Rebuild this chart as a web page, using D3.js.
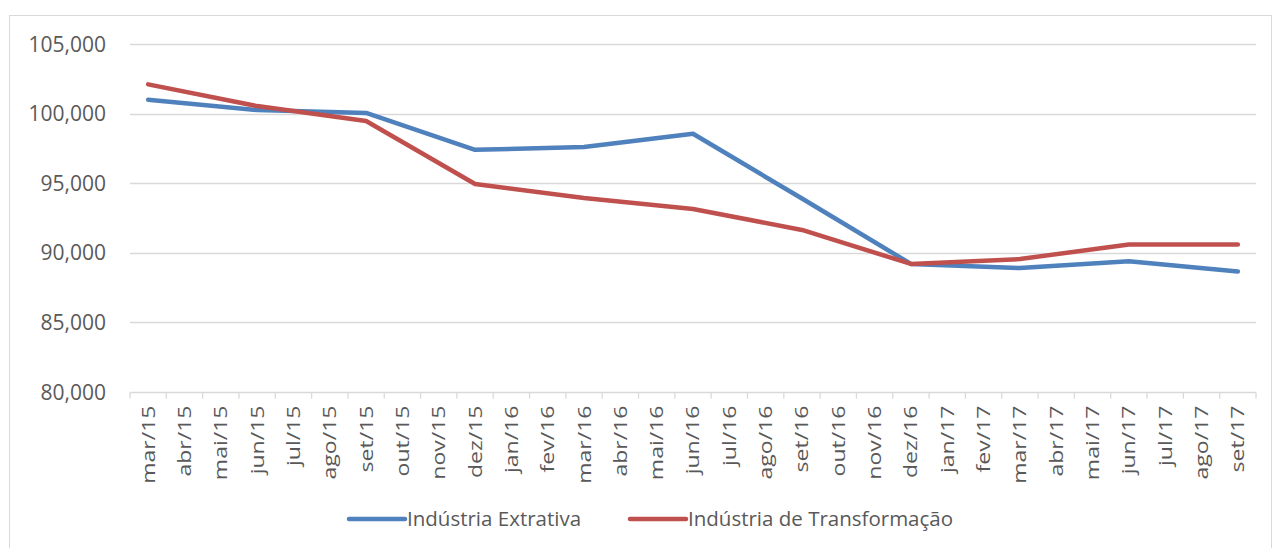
<!DOCTYPE html>
<html>
<head>
<meta charset="utf-8">
<script src="https://cdn.jsdelivr.net/npm/d3@7"></script>
<style>
  body { margin: 0; background: #fff; }
  text { font-family: "Open Sans", sans-serif; fill: #595959; }
</style>
</head>
<body>
<div id="chart"></div>
<script>
// month categories (monthly axis, values only every quarter)
const months = ["mar/15","abr/15","mai/15","jun/15","jul/15","ago/15","set/15","out/15","nov/15","dez/15",
  "jan/16","fev/16","mar/16","abr/16","mai/16","jun/16","jul/16","ago/16","set/16","out/16","nov/16","dez/16",
  "jan/17","fev/17","mar/17","abr/17","mai/17","jun/17","jul/17","ago/17","set/17"];

const quarters = ["mar/15","jun/15","set/15","dez/15","mar/16","jun/16","set/16","dez/16","mar/17","jun/17","set/17"];
const extrativa = [101000, 100250, 100050, 97400, 97600, 98550, 93900, 89200, 88900, 89400, 88650];
const transformacao = [102100, 100540, 99470, 94940, 93940, 93150, 91640, 89200, 89550, 90600, 90600];

const yTicks = [80000, 85000, 90000, 95000, 100000, 105000];

const series = [
  { name: "Indústria Extrativa", values: extrativa, color: "#4f81bd" },
  { name: "Indústria de Transformação", values: transformacao, color: "#c0504d" }
];

const width = 1274, height = 548;
const margin = { left: 130, right: 18, top: 44, bottom: 156 };

const svg = d3.select("#chart").append("svg")
  .attr("width", width)
  .attr("height", height);

// chart border
svg.append("rect")
  .attr("x", 9.5).attr("y", 15.5)
  .attr("width", 1262).attr("height", 560)
  .attr("fill", "none")
  .attr("stroke", "#d9d9d9");

const x = d3.scaleBand()
  .domain(months)
  .range([margin.left, width - margin.right]);

const y = d3.scaleLinear()
  .domain([80000, 105000])
  .range([height - margin.bottom, margin.top]);

const fmt = d3.format(",");

// gridlines
svg.append("g")
  .selectAll("line")
  .data(yTicks.slice(1))
  .enter().append("line")
  .attr("x1", margin.left)
  .attr("x2", width - margin.right)
  .attr("y1", d => Math.round(y(d)) + 0.5)
  .attr("y2", d => Math.round(y(d)) + 0.5)
  .attr("stroke", "#d9d9d9")
  .attr("stroke-width", 1.3);

// y labels
svg.append("g")
  .selectAll("text")
  .data(yTicks)
  .enter().append("text")
  .attr("x", 106)
  .attr("y", d => y(d))
  .attr("dy", "0.36em")
  .attr("text-anchor", "end")
  .style("font-size", "21px")
  .text(d => fmt(d));

// x axis
const xAxis = svg.append("g")
  .attr("transform", `translate(0,${Math.round(y(80000)) + 0.5})`);

xAxis.append("line")
  .attr("x1", margin.left).attr("x2", width - margin.right)
  .attr("stroke", "#d9d9d9").attr("stroke-width", 1.3);

const boundaries = months.map(m => x(m)).concat([x(months[months.length - 1]) + x.bandwidth()]);
xAxis.selectAll("line.tick")
  .data(boundaries)
  .enter().append("line")
  .attr("class", "tick")
  .attr("x1", d => d).attr("x2", d => d)
  .attr("y1", 0).attr("y2", 6)
  .attr("stroke", "#d9d9d9").attr("stroke-width", 1.3);

xAxis.selectAll("text")
  .data(months)
  .enter().append("text")
  .attr("transform", d => `translate(${x(d) + x.bandwidth() / 2},13) rotate(-90) scale(1.28,1)`)
  .attr("dy", "0.36em")
  .attr("text-anchor", "end")
  .style("font-size", "18px")
  .text(d => d);

// lines
const line = d3.line()
  .x(d => x(d.month) + x.bandwidth() / 2)
  .y(d => y(d.value));

series.forEach(s => {
  const pts = quarters.map((q, i) => ({ month: q, value: s.values[i] }));
  svg.append("path")
    .datum(pts)
    .attr("fill", "none")
    .attr("stroke", s.color)
    .attr("stroke-width", 4.5)
    .attr("stroke-linecap", "round")
    .attr("stroke-linejoin", "round")
    .attr("d", line);
});

// legend
const legendX = [349, 630];
const legend = svg.append("g");
series.forEach((s, i) => {
  const g = legend.append("g").attr("transform", `translate(${legendX[i]},519)`);
  g.append("line")
    .attr("x1", 0).attr("x2", 56)
    .attr("stroke", s.color)
    .attr("stroke-width", 4.5)
    .attr("stroke-linecap", "round");
  g.append("text")
    .attr("x", 58)
    .attr("dy", "0.36em")
    .style("font-size", "20.5px")
    .text(s.name);
});
</script>
</body>
</html>
